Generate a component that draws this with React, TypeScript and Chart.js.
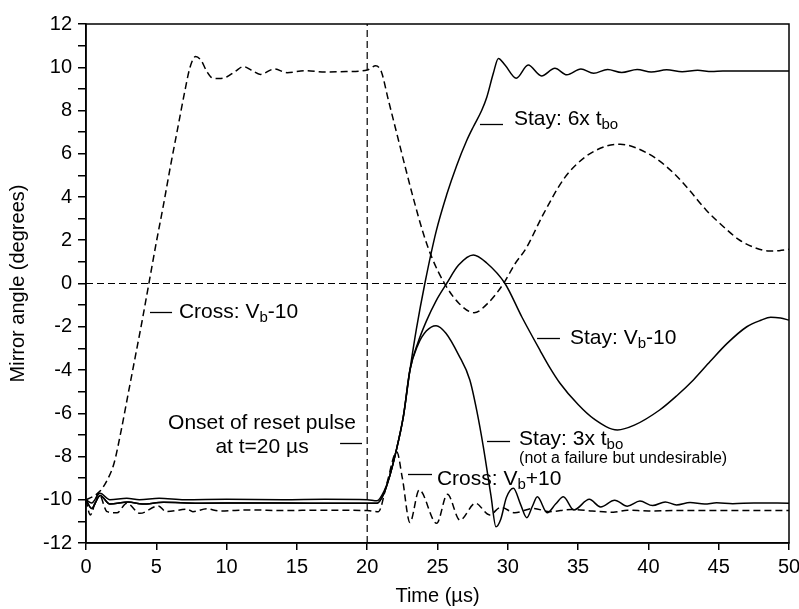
import React, { useEffect, useRef } from "react";
import { Chart, registerables } from "chart.js";

Chart.register(...registerables);

const FONT = '"Liberation Sans", Arial, Helvetica, sans-serif';

// ---- Data (time in µs, angle in degrees) ----
const crossMinusT = [0, 0.5, 1.0, 1.5, 2.0, 2.5, 3.0, 3.5, 4.0, 4.5, 5.0, 5.5, 6.0, 6.5, 7.0, 7.4, 7.8, 8.2, 8.6, 9.0, 9.5, 10.0, 10.6, 11.2, 11.8, 12.4, 13.4, 14.3, 15.6, 17.0, 18.5, 20.0, 20.6, 21.0, 21.5, 22.1, 22.7, 23.3, 24.0, 24.6, 25.5, 26.5, 27.6, 28.6, 29.7, 30.5, 31.3, 32.5, 34.0, 35.5, 37.0, 38.0, 39.0, 40.5, 41.8, 43.0, 44.1, 45.3, 46.5, 47.6, 48.6, 49.3, 50.0];
const crossMinusV = [-10, -9.85, -9.6, -9.1, -8.3, -6.8, -5.1, -3.4, -1.7, 0.1, 1.9, 3.6, 5.4, 7.1, 8.8, 10.0, 10.5, 10.3, 9.8, 9.5, 9.48, 9.55, 9.8, 10.03, 9.85, 9.67, 9.92, 9.75, 9.84, 9.78, 9.8, 9.87, 10.07, 9.8, 8.5, 6.95, 5.4, 3.9, 2.3, 1.2, 0.0, -0.9, -1.35, -0.9, 0.0, 0.9, 1.63, 3.17, 4.85, 5.85, 6.35, 6.44, 6.3, 5.8, 5.1, 4.25, 3.4, 2.65, 2.0, 1.65, 1.5, 1.52, 1.58];

const stay6xT = [0, 0.4, 1.0, 1.7, 2.9, 3.8, 5.2, 7.0, 10.0, 14.0, 17.0, 20.0, 20.7, 21.2, 21.6, 22.0, 22.57, 23.04, 23.5, 24.1, 24.9, 25.65, 26.36, 27.07, 27.55, 28.14, 28.5, 28.97, 29.33, 29.8, 30.6, 31.45, 32.4, 33.35, 34.2, 35.2, 36.1, 37.1, 38.1, 39.2, 40.2, 41.3, 42.4, 43.5, 44.5, 45.3, 50];
const stay6xV = [-10, -10.15, -9.7, -10.0, -9.93, -10.0, -9.93, -10.0, -9.98, -10.0, -9.98, -10.0, -10.05, -9.6, -8.9, -7.9, -6.16, -4.0, -2.1, 0.0, 2.4, 4.1, 5.45, 6.6, 7.25, 8.0, 8.6, 9.72, 10.41, 10.1, 9.49, 10.1, 9.6, 9.95, 9.65, 9.92, 9.72, 9.9, 9.76, 9.9, 9.78, 9.88, 9.79, 9.86, 9.8, 9.83, 9.83];

const stayVbT = [0, 0.4, 1.0, 1.7, 3.0, 4.0, 5.5, 8.0, 12, 16, 20.0, 20.7, 21.2, 21.6, 22.0, 22.57, 23.04, 23.6, 24.2, 24.9, 25.65, 26.5, 27.55, 28.5, 29.8, 31.0, 32.3, 33.0, 33.7, 35.0, 36.1, 37.8, 39.0, 40.8, 42.0, 43.2, 44.4, 45.6, 47.0, 48.0, 48.7, 49.4, 50];
const stayVbV = [-10, -10.4, -9.8, -10.2, -10.1, -10.2, -10.12, -10.16, -10.15, -10.16, -10.16, -10.16, -9.7, -8.9, -7.9, -6.16, -4.0, -2.75, -1.75, -0.8, 0.0, 0.85, 1.32, 0.95, 0.0, -1.55, -3.1, -3.9, -4.6, -5.6, -6.25, -6.77, -6.55, -5.85, -5.2, -4.46, -3.6, -2.77, -2.0, -1.7, -1.56, -1.6, -1.69];

const stay3xT = [0, 0.4, 1.0, 1.7, 3.0, 4.0, 5.5, 8.0, 12, 16, 20.0, 20.7, 21.2, 21.6, 22.0, 22.57, 23.04, 23.6, 24.2, 24.9, 25.6, 26.5, 27.3, 27.8, 28.26, 28.8, 29.16, 29.5, 29.9, 30.4, 30.9, 31.35, 31.75, 32.1, 32.8, 33.4, 33.95, 34.7, 35.8, 36.6, 37.6, 38.5, 39.4, 40.3, 41.2, 42.0, 42.96, 44.0, 44.85, 46.0, 47.5, 50];
const stay3xV = [-10, -10.4, -9.8, -10.2, -10.1, -10.2, -10.12, -10.16, -10.15, -10.16, -10.16, -10.16, -9.7, -8.9, -7.9, -6.16, -4.0, -2.85, -2.2, -1.95, -2.3, -3.3, -4.46, -5.9, -7.55, -9.8, -11.25, -10.9, -9.9, -9.47, -10.2, -10.83, -10.3, -9.86, -10.6, -10.2, -9.86, -10.47, -9.98, -10.33, -10.02, -10.3, -10.06, -10.27, -10.1, -10.24, -10.13, -10.2, -10.14, -10.18, -10.15, -10.16];

const crossPlusT = [0, 0.3, 0.9, 1.5, 2.2, 2.9, 3.84, 5.14, 5.7, 7.2, 7.6, 8.6, 9.5, 11.7, 14.0, 17.0, 20.0, 20.8, 21.4, 22.1, 22.5, 23.04, 23.7, 24.94, 25.7, 26.6, 27.7, 28.7, 29.5, 30.5, 31.8, 33.0, 34.5, 36.0, 37.5, 38.5, 40.0, 42.0, 45.0, 50];
const crossPlusV = [-10, -10.7, -9.7, -10.55, -10.6, -10.16, -10.63, -10.29, -10.55, -10.44, -10.55, -10.42, -10.52, -10.47, -10.5, -10.48, -10.5, -10.55, -9.24, -7.78, -9.0, -11.05, -9.55, -11.09, -9.75, -10.94, -10.16, -10.7, -10.35, -10.6, -10.4, -10.55, -10.45, -10.52, -10.58, -10.48, -10.52, -10.5, -10.5, -10.5];

const zeroLineT = [0, 50];
const zeroLineV = [0, 0];
const pulseLineT = [20, 20];
const pulseLineV = [-12, 12];

const xTickValues = [0, 5, 10, 15, 20, 25, 30, 35, 40, 45, 50];
const yLabeledTicks = [-12, -10, -8, -6, -4, -2, 0, 2, 4, 6, 8, 10, 12];

const xTitle = "Time (\u00b5s)";
const yTitle = "Mirror angle (degrees)";

type Seg = { s: string; sub?: boolean };
type Ann = {
  lines: { parts: Seg[]; size: number; dy: number }[];
  t: number;
  v: number;
  align: "left" | "center";
  lead?: [number, number, number];
};

const annotations: Ann[] = [
  {
    lines: [{ parts: [{ s: "Cross: V" }, { s: "b", sub: true }, { s: "-10" }], size: 21, dy: 0 }],
    t: 6.61, v: -1.32, align: "left", lead: [4.55, 6.12, -1.3],
  },
  {
    lines: [
      { parts: [{ s: "Onset of reset pulse" }], size: 21, dy: 0 },
      { parts: [{ s: "at t=20 \u00b5s" }], size: 21, dy: 24 },
    ],
    t: 12.52, v: -6.45, align: "center", lead: [18.07, 19.63, -7.39],
  },
  {
    lines: [{ parts: [{ s: "Stay: 6x t" }, { s: "bo", sub: true }], size: 21, dy: 0 }],
    t: 30.44, v: 7.61, align: "left", lead: [28.02, 29.66, 7.38],
  },
  {
    lines: [{ parts: [{ s: "Stay: V" }, { s: "b", sub: true }, { s: "-10" }], size: 21, dy: 0 }],
    t: 34.42, v: -2.52, align: "left", lead: [32.08, 33.71, -2.52],
  },
  {
    lines: [
      { parts: [{ s: "Stay: 3x t" }, { s: "bo", sub: true }], size: 21, dy: 0 },
      { parts: [{ s: "(not a failure but undesirable)" }], size: 16, dy: 20 },
    ],
    t: 30.8, v: -7.19, align: "left", lead: [28.52, 30.16, -7.27],
  },
  {
    lines: [{ parts: [{ s: "Cross: V" }, { s: "b", sub: true }, { s: "+10" }], size: 21, dy: 0 }],
    t: 24.96, v: -9.04, align: "left", lead: [22.9, 24.61, -8.82],
  },
];

const zip = (t: number[], v: number[]) => t.map((x, i) => ({ x, y: v[i] }));

const framePlugin = {
  id: "frame",
  beforeDatasetsDraw(chart: any) {
    const { ctx, chartArea } = chart;
    ctx.save();
    ctx.strokeStyle = "#000";
    ctx.lineWidth = 1.5;
    ctx.strokeRect(chartArea.left, chartArea.top, chartArea.right - chartArea.left, chartArea.bottom - chartArea.top);
    ctx.restore();
  },
};

const annotationPlugin = {
  id: "annots",
  afterDraw(chart: any) {
    const { ctx } = chart;
    const xs = chart.scales.x;
    const ys = chart.scales.y;
    ctx.save();
    ctx.fillStyle = "#000";
    ctx.strokeStyle = "#000";
    ctx.lineWidth = 1.3;
    ctx.textBaseline = "middle";
    ctx.textAlign = "left";
    for (const a of annotations) {
      if (a.lead) {
        const [t1, t2, lv] = a.lead;
        const py = Math.round(ys.getPixelForValue(lv)) + 0.5;
        ctx.beginPath();
        ctx.moveTo(xs.getPixelForValue(t1), py);
        ctx.lineTo(xs.getPixelForValue(t2), py);
        ctx.stroke();
      }
      const px = xs.getPixelForValue(a.t);
      const py = ys.getPixelForValue(a.v);
      for (const line of a.lines) {
        const subSize = Math.round(line.size * 0.72);
        let width = 0;
        for (const p of line.parts) {
          ctx.font = `${p.sub ? subSize : line.size}px ${FONT}`;
          width += ctx.measureText(p.s).width;
        }
        let x = a.align === "center" ? px - width / 2 : px;
        const y = py + line.dy;
        for (const p of line.parts) {
          ctx.font = `${p.sub ? subSize : line.size}px ${FONT}`;
          ctx.fillText(p.s, x, p.sub ? y + 6 : y);
          x += ctx.measureText(p.s).width;
        }
      }
    }
    ctx.restore();
  },
};

export default function App() {
  const ref = useRef<HTMLCanvasElement | null>(null);

  useEffect(() => {
    if (!ref.current) return;
    const solid = { borderColor: "#000", borderWidth: 1.5, pointRadius: 0, fill: false, cubicInterpolationMode: "monotone" as const };
    const dashed = { ...solid, borderDash: [7, 4] };
    const chart = new Chart(ref.current, {
      type: "line",
      data: {
        datasets: [
          { label: "zero", data: zip(zeroLineT, zeroLineV), borderColor: "#000", borderWidth: 1.2, borderDash: [7, 4], pointRadius: 0 },
          { label: "pulse", data: zip(pulseLineT, pulseLineV), borderColor: "#000", borderWidth: 1.2, borderDash: [7, 4], pointRadius: 0 },
          { label: "Cross: Vb-10", data: zip(crossMinusT, crossMinusV), ...dashed },
          { label: "Stay: 6x tbo", data: zip(stay6xT, stay6xV), ...solid },
          { label: "Stay: Vb-10", data: zip(stayVbT, stayVbV), ...solid },
          { label: "Stay: 3x tbo", data: zip(stay3xT, stay3xV), ...solid },
          { label: "Cross: Vb+10", data: zip(crossPlusT, crossPlusV), ...dashed },
        ],
      },
      options: {
        animation: false,
        responsive: false,
        layout: { padding: { left: 0, right: 10, top: 24, bottom: 0 } },
        plugins: { legend: { display: false }, tooltip: { enabled: false } },
        scales: {
          x: {
            type: "linear",
            min: 0,
            max: 50,
            afterBuildTicks: (scale: any) => {
              scale.ticks = xTickValues.map((value) => ({ value }));
            },
            ticks: { font: { family: FONT, size: 20 }, color: "#000", padding: 5, maxRotation: 0, autoSkip: false },
            grid: { display: true, drawOnChartArea: false, drawTicks: true, tickLength: 7, color: "#000", lineWidth: 1.5 },
            border: { display: true, color: "#000", width: 1.5 },
            title: { display: true, text: xTitle, font: { family: FONT, size: 20 }, color: "#000", padding: { top: 0, bottom: 1 } },
            afterFit: (scale: any) => {
              scale.height = 66;
              scale.paddingLeft = 0;
              scale.paddingRight = 0;
            },
          },
          y: {
            type: "linear",
            min: -12,
            max: 12,
            ticks: {
              stepSize: 1,
              autoSkip: false,
              font: { family: FONT, size: 20 },
              color: "#000",
              padding: 6,
              callback: (v: any) => (yLabeledTicks.includes(Number(v)) ? String(v) : ""),
            },
            grid: { display: true, drawOnChartArea: false, drawTicks: true, tickLength: 8, color: "#000", lineWidth: 1.5 },
            border: { display: true, color: "#000", width: 1.5 },
            title: { display: true, text: yTitle, font: { family: FONT, size: 20 }, color: "#000", padding: { top: 6, bottom: 0 } },
            afterFit: (scale: any) => {
              scale.width = 86;
            },
          },
        },
      },
      plugins: [framePlugin, annotationPlugin],
    });
    return () => chart.destroy();
  }, []);

  return (
    <div style={{ position: "fixed", left: 0, top: 0, width: 799, height: 609, background: "#fff" }}>
      <canvas ref={ref} width={799} height={609} style={{ display: "block" }} />
    </div>
  );
}
